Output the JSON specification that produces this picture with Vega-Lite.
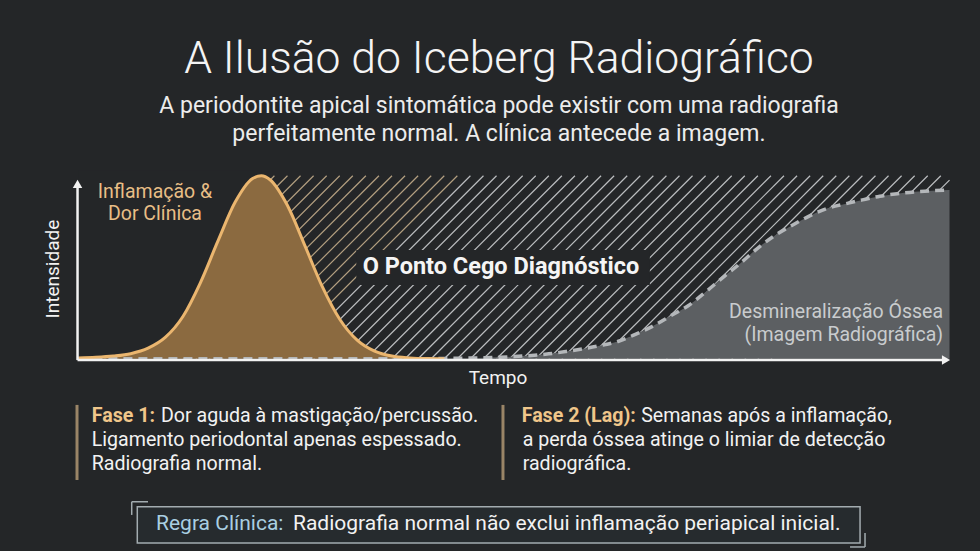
{
  "$schema": "https://vega.github.io/schema/vega-lite/v6.json",
  "width": 980,
  "height": 551,
  "autosize": {"type": "fit", "contains": "padding"},
  "padding": 0,
  "background": "#242628",
  "config": {"view": {"stroke": null}, "font": "Roboto"},
  "datasets": {
    "curvas": [
      {"t": 0, "inflamacao": 0.004, "osso": 0},
      {"t": 2, "inflamacao": 0.008, "osso": 0},
      {"t": 4, "inflamacao": 0.015, "osso": 0},
      {"t": 6, "inflamacao": 0.028, "osso": 0},
      {"t": 8, "inflamacao": 0.058, "osso": 0},
      {"t": 10, "inflamacao": 0.118, "osso": 0},
      {"t": 12, "inflamacao": 0.231, "osso": 0},
      {"t": 14, "inflamacao": 0.415, "osso": 0},
      {"t": 16, "inflamacao": 0.641, "osso": 0},
      {"t": 18, "inflamacao": 0.856, "osso": 0},
      {"t": 20, "inflamacao": 0.985, "osso": 0},
      {"t": 21, "inflamacao": 1.0, "osso": 0},
      {"t": 22, "inflamacao": 0.978, "osso": 0},
      {"t": 24, "inflamacao": 0.837, "osso": 0},
      {"t": 26, "inflamacao": 0.618, "osso": 0},
      {"t": 28, "inflamacao": 0.394, "osso": 0},
      {"t": 30, "inflamacao": 0.216, "osso": 0},
      {"t": 32, "inflamacao": 0.102, "osso": 0},
      {"t": 34, "inflamacao": 0.042, "osso": 0},
      {"t": 36, "inflamacao": 0.015, "osso": 0},
      {"t": 38, "inflamacao": 0.005, "osso": 0},
      {"t": 40, "inflamacao": 0.001, "osso": 0},
      {"t": 42, "inflamacao": 0, "osso": 0.002},
      {"t": 44, "inflamacao": 0, "osso": 0.003},
      {"t": 46, "inflamacao": 0, "osso": 0.005},
      {"t": 48, "inflamacao": 0, "osso": 0.008},
      {"t": 50, "inflamacao": 0, "osso": 0.012},
      {"t": 52, "inflamacao": 0, "osso": 0.018},
      {"t": 54, "inflamacao": 0, "osso": 0.027},
      {"t": 56, "inflamacao": 0, "osso": 0.040},
      {"t": 58, "inflamacao": 0, "osso": 0.055},
      {"t": 60, "inflamacao": 0, "osso": 0.073},
      {"t": 62, "inflamacao": 0, "osso": 0.096},
      {"t": 64, "inflamacao": 0, "osso": 0.135},
      {"t": 66, "inflamacao": 0, "osso": 0.180},
      {"t": 68, "inflamacao": 0, "osso": 0.235},
      {"t": 70, "inflamacao": 0, "osso": 0.290},
      {"t": 72, "inflamacao": 0, "osso": 0.365},
      {"t": 74, "inflamacao": 0, "osso": 0.445},
      {"t": 76, "inflamacao": 0, "osso": 0.522},
      {"t": 78, "inflamacao": 0, "osso": 0.605},
      {"t": 80, "inflamacao": 0, "osso": 0.675},
      {"t": 82, "inflamacao": 0, "osso": 0.731},
      {"t": 84, "inflamacao": 0, "osso": 0.782},
      {"t": 86, "inflamacao": 0, "osso": 0.822},
      {"t": 88, "inflamacao": 0, "osso": 0.846},
      {"t": 90, "inflamacao": 0, "osso": 0.868},
      {"t": 92, "inflamacao": 0, "osso": 0.888},
      {"t": 94, "inflamacao": 0, "osso": 0.902},
      {"t": 96, "inflamacao": 0, "osso": 0.912},
      {"t": 98, "inflamacao": 0, "osso": 0.918},
      {"t": 100, "inflamacao": 0, "osso": 0.922}
    ],
    "hachura": [
      {"h": 0, "h2": 21, "hv": 1}, {"h": 1.5, "h2": 22.5, "hv": 1}, {"h": 3, "h2": 24, "hv": 1},
      {"h": 4.5, "h2": 25.5, "hv": 1}, {"h": 6, "h2": 27, "hv": 1}, {"h": 7.5, "h2": 28.5, "hv": 1},
      {"h": 9, "h2": 30, "hv": 1}, {"h": 10.5, "h2": 31.5, "hv": 1}, {"h": 12, "h2": 33, "hv": 1},
      {"h": 13.5, "h2": 34.5, "hv": 1}, {"h": 15, "h2": 36, "hv": 1}, {"h": 16.5, "h2": 37.5, "hv": 1},
      {"h": 18, "h2": 39, "hv": 1}, {"h": 19.5, "h2": 40.5, "hv": 1}, {"h": 21, "h2": 42, "hv": 1},
      {"h": 22.5, "h2": 43.5, "hv": 1}, {"h": 24, "h2": 45, "hv": 1}, {"h": 25.5, "h2": 46.5, "hv": 1},
      {"h": 27, "h2": 48, "hv": 1}, {"h": 28.5, "h2": 49.5, "hv": 1}, {"h": 30, "h2": 51, "hv": 1},
      {"h": 31.5, "h2": 52.5, "hv": 1}, {"h": 33, "h2": 54, "hv": 1}, {"h": 34.5, "h2": 55.5, "hv": 1},
      {"h": 36, "h2": 57, "hv": 1}, {"h": 37.5, "h2": 58.5, "hv": 1}, {"h": 39, "h2": 60, "hv": 1},
      {"h": 40.5, "h2": 61.5, "hv": 1}, {"h": 42, "h2": 63, "hv": 1}, {"h": 43.5, "h2": 64.5, "hv": 1},
      {"h": 45, "h2": 66, "hv": 1}, {"h": 46.5, "h2": 67.5, "hv": 1}, {"h": 48, "h2": 69, "hv": 1},
      {"h": 49.5, "h2": 70.5, "hv": 1}, {"h": 51, "h2": 72, "hv": 1}, {"h": 52.5, "h2": 73.5, "hv": 1},
      {"h": 54, "h2": 75, "hv": 1}, {"h": 55.5, "h2": 76.5, "hv": 1}, {"h": 57, "h2": 78, "hv": 1},
      {"h": 58.5, "h2": 79.5, "hv": 1}, {"h": 60, "h2": 81, "hv": 1}, {"h": 61.5, "h2": 82.5, "hv": 1},
      {"h": 63, "h2": 84, "hv": 1}, {"h": 64.5, "h2": 85.5, "hv": 1}, {"h": 66, "h2": 87, "hv": 1},
      {"h": 67.5, "h2": 88.5, "hv": 1}, {"h": 69, "h2": 90, "hv": 1}, {"h": 70.5, "h2": 91.5, "hv": 1},
      {"h": 72, "h2": 93, "hv": 1}, {"h": 73.5, "h2": 94.5, "hv": 1}, {"h": 75, "h2": 96, "hv": 1},
      {"h": 76.5, "h2": 97.5, "hv": 1}, {"h": 78, "h2": 99, "hv": 1}, {"h": 79.5, "h2": 100, "hv": 0.976}
    ]
  },
  "layer": [
    {
      "data": {"name": "hachura"},
      "mark": {"type": "rule", "strokeWidth": 1.2, "opacity": 0.85},
      "encoding": {
        "x": {"field": "h2", "type": "quantitative", "scale": {"domain": [-9, 103.5], "nice": false, "zero": false}, "axis": null},
        "x2": {"field": "h"},
        "y": {"field": "hv", "type": "quantitative", "scale": {"domain": [-1.05, 1.96], "nice": false, "zero": false}, "axis": null},
        "y2": {"datum": 0},
        "stroke": {"condition": {"test": "datum.h < 24", "value": "#cdb590"}, "value": "#d6d8da"}
      }
    },
    {
      "data": {"name": "curvas"},
      "transform": [{"filter": "datum.t <= 21"}],
      "mark": {"type": "area", "color": "#242628", "interpolate": "monotone"},
      "encoding": {
        "x": {"field": "t", "type": "quantitative"},
        "y": {"field": "inflamacao", "type": "quantitative"},
        "y2": {"datum": 1.03}
      }
    },
    {
      "data": {"name": "curvas"},
      "mark": {"type": "area", "color": "#5c5f62", "interpolate": "monotone"},
      "encoding": {
        "x": {"field": "t", "type": "quantitative"},
        "y": {"field": "osso", "type": "quantitative"},
        "y2": {"datum": 0}
      }
    },
    {
      "data": {"name": "curvas"},
      "transform": [{"filter": "datum.t <= 42"}],
      "mark": {"type": "area", "color": "#8b6a40", "interpolate": "monotone"},
      "encoding": {
        "x": {"field": "t", "type": "quantitative"},
        "y": {"field": "inflamacao", "type": "quantitative"},
        "y2": {"datum": 0}
      }
    },
    {
      "data": {"name": "curvas"},
      "mark": {"type": "line", "color": "#b4b7ba", "strokeWidth": 3.5, "strokeDash": [9, 6], "interpolate": "monotone"},
      "encoding": {
        "x": {"field": "t", "type": "quantitative"},
        "y": {"field": "osso", "type": "quantitative"}
      }
    },
    {
      "data": {"name": "curvas"},
      "transform": [{"filter": "datum.t <= 42"}],
      "mark": {"type": "line", "color": "#ebb66f", "strokeWidth": 3, "interpolate": "monotone"},
      "encoding": {
        "x": {"field": "t", "type": "quantitative"},
        "y": {"field": "inflamacao", "type": "quantitative"}
      }
    },
    {
      "data": {"values": [{}]},
      "mark": {"type": "rect", "color": "#242628"},
      "encoding": {
        "x": {"datum": 31.9, "type": "quantitative"}, "x2": {"datum": 65.6},
        "y": {"datum": 0.594, "type": "quantitative"}, "y2": {"datum": 0.403}
      }
    },
    {
      "data": {"values": [{}]},
      "mark": {"type": "text", "text": "O Ponto Cego Diagnóstico", "fontSize": 23.5, "fontWeight": "bold", "color": "#f5f5f5", "align": "center", "baseline": "middle"},
      "encoding": {"x": {"datum": 48.5, "type": "quantitative"}, "y": {"datum": 0.501, "type": "quantitative"}}
    },
    {
      "data": {"values": [{}]},
      "mark": {"type": "rule", "color": "#f2f2f2", "strokeWidth": 2.5},
      "encoding": {
        "x": {"datum": -0.1, "type": "quantitative"},
        "y": {"datum": -0.007, "type": "quantitative"}, "y2": {"datum": 0.95}
      }
    },
    {
      "data": {"values": [{}]},
      "mark": {"type": "rule", "color": "#f2f2f2", "strokeWidth": 2.5},
      "encoding": {
        "x": {"datum": -0.1, "type": "quantitative"}, "x2": {"datum": 99.2},
        "y": {"datum": -0.007, "type": "quantitative"}
      }
    },
    {
      "data": {"values": [{}]},
      "mark": {"type": "point", "shape": "triangle-up", "filled": true, "color": "#f2f2f2", "size": 90, "opacity": 1},
      "encoding": {"x": {"datum": -0.1, "type": "quantitative"}, "y": {"datum": 0.955, "type": "quantitative"}}
    },
    {
      "data": {"values": [{}]},
      "mark": {"type": "point", "shape": "triangle-right", "filled": true, "color": "#f2f2f2", "size": 90, "opacity": 1},
      "encoding": {"x": {"datum": 99.6, "type": "quantitative"}, "y": {"datum": -0.007, "type": "quantitative"}}
    },
    {
      "data": {"values": [{}]},
      "mark": {"type": "text", "text": "A Ilusão do Iceberg Radiográfico", "fontSize": 44.5, "fontWeight": 300, "color": "#f4f4f4", "align": "center", "baseline": "middle"},
      "encoding": {"x": {"datum": 48.28, "type": "quantitative"}, "y": {"datum": 1.632, "type": "quantitative"}}
    },
    {
      "data": {"values": [{}]},
      "mark": {"type": "text", "text": ["A periodontite apical sintomática pode existir com uma radiografia", "perfeitamente normal. A clínica antecede a imagem."], "fontSize": 23, "lineHeight": 28, "color": "#ececec", "align": "center", "baseline": "middle"},
      "encoding": {"x": {"datum": 48.28, "type": "quantitative"}, "y": {"datum": 1.381, "type": "quantitative"}}
    },
    {
      "data": {"values": [{}]},
      "mark": {"type": "text", "text": ["Inflamação &", "Dor Clínica"], "fontSize": 19.5, "lineHeight": 22, "color": "#e8be86", "align": "center", "baseline": "middle"},
      "encoding": {"x": {"datum": 8.79, "type": "quantitative"}, "y": {"datum": 0.913, "type": "quantitative"}}
    },
    {
      "data": {"values": [{}]},
      "mark": {"type": "text", "text": ["Desmineralização Óssea", "(Imagem Radiográfica)"], "fontSize": 19.5, "lineHeight": 23.5, "color": "#c9ccce", "align": "right", "baseline": "middle"},
      "encoding": {"x": {"datum": 99.26, "type": "quantitative"}, "y": {"datum": 0.257, "type": "quantitative"}}
    },
    {
      "data": {"values": [{}]},
      "mark": {"type": "text", "text": "Intensidade", "fontSize": 19, "angle": 270, "color": "#f2f2f2", "align": "center", "baseline": "middle"},
      "encoding": {"x": {"datum": -2.86, "type": "quantitative"}, "y": {"datum": 0.49, "type": "quantitative"}}
    },
    {
      "data": {"values": [{}]},
      "mark": {"type": "text", "text": "Tempo", "fontSize": 19, "color": "#f2f2f2", "align": "center", "baseline": "middle"},
      "encoding": {"x": {"datum": 48.17, "type": "quantitative"}, "y": {"datum": -0.105, "type": "quantitative"}}
    },
    {
      "data": {"values": [{}]},
      "mark": {"type": "rule", "color": "#9a8567", "strokeWidth": 3},
      "encoding": {"x": {"datum": -0.16, "type": "quantitative"}, "y": {"datum": -0.252, "type": "quantitative"}, "y2": {"datum": -0.662}}
    },
    {
      "data": {"values": [{}]},
      "mark": {"type": "rule", "color": "#9a8567", "strokeWidth": 3},
      "encoding": {"x": {"datum": 48.74, "type": "quantitative"}, "y": {"datum": -0.252, "type": "quantitative"}, "y2": {"datum": -0.662}}
    },
    {
      "data": {"values": [{}]},
      "mark": {"type": "text", "text": "Fase 1:", "fontSize": 19.6, "fontWeight": "bold", "color": "#f0c68a", "align": "left", "baseline": "middle"},
      "encoding": {"x": {"datum": 1.53, "type": "quantitative"}, "y": {"datum": -0.3125, "type": "quantitative"}}
    },
    {
      "data": {"values": [{}]},
      "mark": {"type": "text", "text": "Dor aguda à mastigação/percussão.", "fontSize": 19.6, "color": "#f2f2f2", "align": "left", "baseline": "middle"},
      "encoding": {"x": {"datum": 9.48, "type": "quantitative"}, "y": {"datum": -0.3125, "type": "quantitative"}}
    },
    {
      "data": {"values": [{}]},
      "mark": {"type": "text", "text": ["Ligamento periodontal apenas espessado.", "Radiografia normal."], "fontSize": 19.6, "lineHeight": 24, "color": "#f2f2f2", "align": "left", "baseline": "middle"},
      "encoding": {"x": {"datum": 1.53, "type": "quantitative"}, "y": {"datum": -0.444, "type": "quantitative"}}
    },
    {
      "data": {"values": [{}]},
      "mark": {"type": "text", "text": "Fase 2 (Lag):", "fontSize": 19.6, "fontWeight": "bold", "color": "#f0c68a", "align": "left", "baseline": "middle"},
      "encoding": {"x": {"datum": 50.89, "type": "quantitative"}, "y": {"datum": -0.3125, "type": "quantitative"}}
    },
    {
      "data": {"values": [{}]},
      "mark": {"type": "text", "text": "Semanas após a inflamação,", "fontSize": 19.6, "color": "#f2f2f2", "align": "left", "baseline": "middle"},
      "encoding": {"x": {"datum": 64.6, "type": "quantitative"}, "y": {"datum": -0.3125, "type": "quantitative"}}
    },
    {
      "data": {"values": [{}]},
      "mark": {"type": "text", "text": ["a perda óssea atinge o limiar de detecção", "radiográfica."], "fontSize": 19.6, "lineHeight": 24, "color": "#f2f2f2", "align": "left", "baseline": "middle"},
      "encoding": {"x": {"datum": 51.0, "type": "quantitative"}, "y": {"datum": -0.444, "type": "quantitative"}}
    },
    {
      "data": {"values": [{}]},
      "mark": {"type": "rect", "fill": "#262b2e", "stroke": "#a3acb0", "strokeWidth": 1.5},
      "encoding": {
        "x": {"datum": 6.76, "type": "quantitative"}, "x2": {"datum": 89.73},
        "y": {"datum": -0.808, "type": "quantitative"}, "y2": {"datum": -1.006}
      }
    },
    {
      "data": {"values": [{}]},
      "mark": {"type": "rule", "color": "#a3acb0", "strokeWidth": 1.5},
      "encoding": {"x": {"datum": 6.12, "type": "quantitative"}, "x2": {"datum": 7.99}, "y": {"datum": -0.781, "type": "quantitative"}}
    },
    {
      "data": {"values": [{}]},
      "mark": {"type": "rule", "color": "#a3acb0", "strokeWidth": 1.5},
      "encoding": {"x": {"datum": 6.12, "type": "quantitative"}, "y": {"datum": -0.781, "type": "quantitative"}, "y2": {"datum": -0.853}}
    },
    {
      "data": {"values": [{}]},
      "mark": {"type": "rule", "color": "#a3acb0", "strokeWidth": 1.5},
      "encoding": {"x": {"datum": 88.58, "type": "quantitative"}, "x2": {"datum": 90.3}, "y": {"datum": -1.028, "type": "quantitative"}}
    },
    {
      "data": {"values": [{}]},
      "mark": {"type": "rule", "color": "#a3acb0", "strokeWidth": 1.5},
      "encoding": {"x": {"datum": 90.3, "type": "quantitative"}, "y": {"datum": -0.952, "type": "quantitative"}, "y2": {"datum": -1.028}}
    },
    {
      "data": {"values": [{}]},
      "mark": {"type": "text", "text": "Regra Clínica:", "fontSize": 21, "color": "#a9cfe2", "align": "left", "baseline": "middle"},
      "encoding": {"x": {"datum": 8.91, "type": "quantitative"}, "y": {"datum": -0.902, "type": "quantitative"}}
    },
    {
      "data": {"values": [{}]},
      "mark": {"type": "text", "text": "Radiografia normal não exclui inflamação periapical inicial.", "fontSize": 21, "color": "#f2f2f2", "align": "left", "baseline": "middle"},
      "encoding": {"x": {"datum": 24.63, "type": "quantitative"}, "y": {"datum": -0.902, "type": "quantitative"}}
    }
  ]
}
